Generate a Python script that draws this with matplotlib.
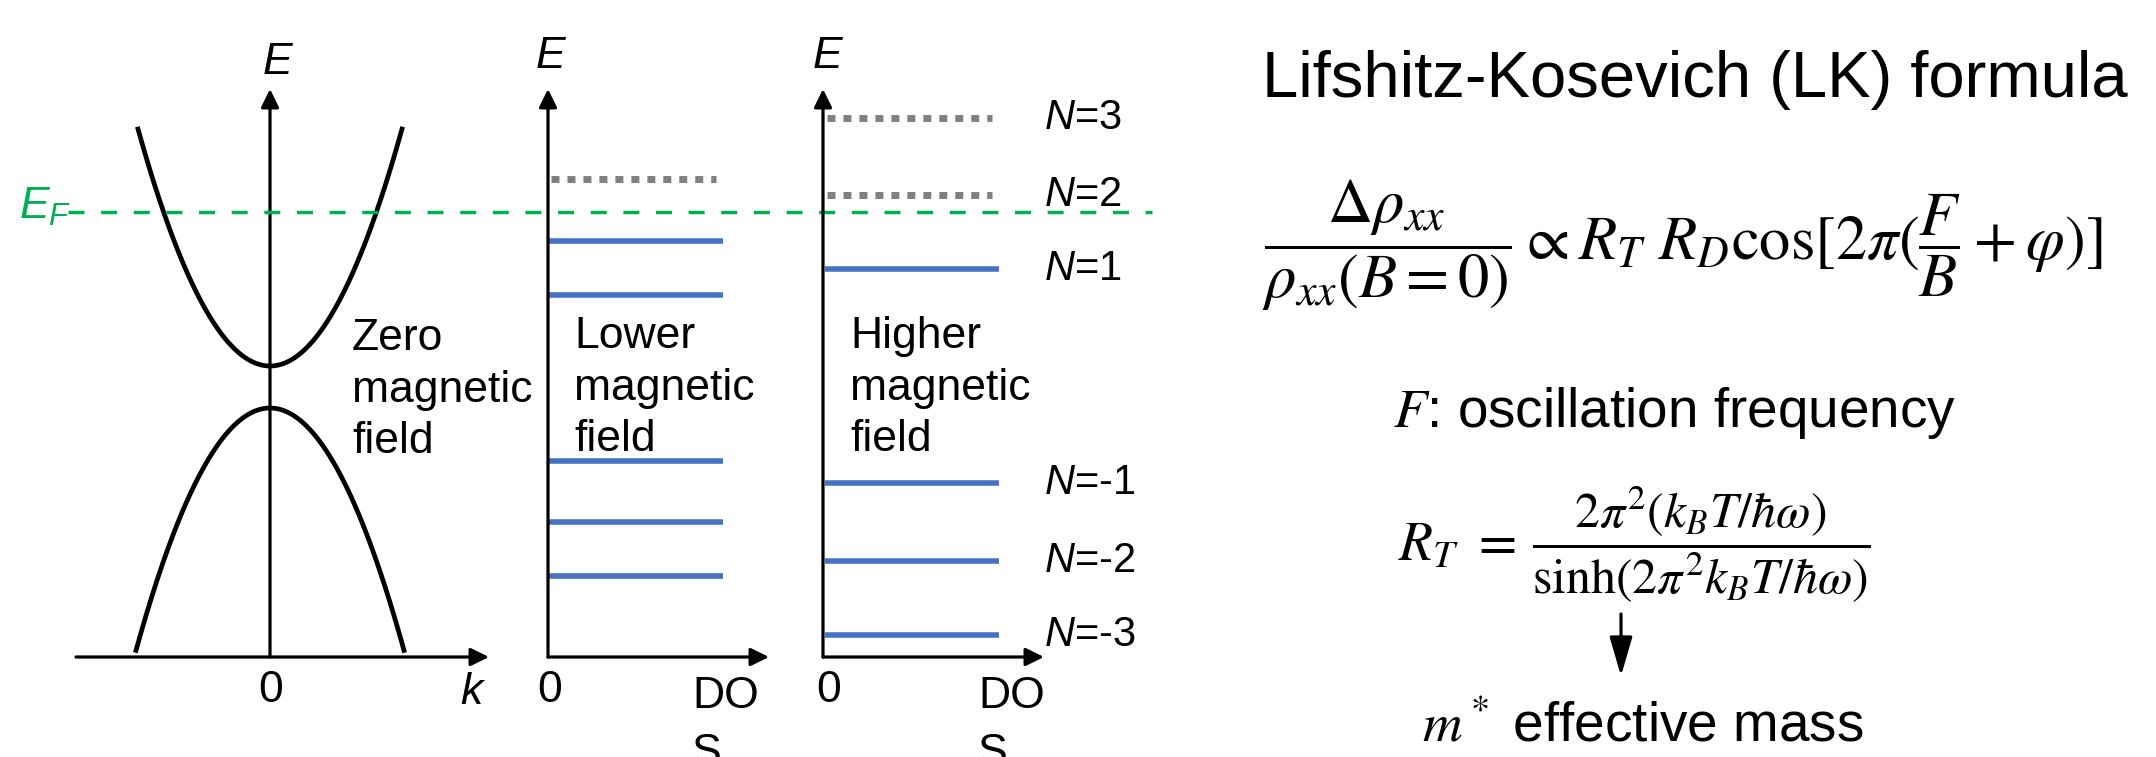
import matplotlib
matplotlib.use('Agg')
import matplotlib.pyplot as plt
import matplotlib.transforms as mtransforms
import numpy as np

plt.rcParams['font.family'] = ['Liberation Sans', 'DejaVu Sans']
plt.rcParams['mathtext.fontset'] = 'custom'
plt.rcParams['mathtext.rm'] = 'Liberation Sans'
plt.rcParams['mathtext.it'] = 'Liberation Sans:italic'

# ---- data (energies in arbitrary units, E = 0 in the middle of the gap) ----
gap = 0.42                 # band gap at k = 0
curv_cond = 1.36           # curvature of the conduction band
curv_val = 1.35            # curvature of the valence band
k_cond = 1.32              # |k| where the drawn bands stop
k_val = 1.34
E_F = 1.75                 # Fermi level

low_filled = [1.46, 0.92, -0.74, -1.35, -1.89]   # Landau levels, lower field
low_empty = [2.08]
high_filled = [1.18, -0.96, -1.74, -2.48]        # Landau levels, higher field
high_empty = [2.69, 1.92]
high_N = [3, 2, 1, -1, -2, -3]
high_N_E = [2.69, 1.92, 1.18, -0.96, -1.74, -2.48]
dos_len = 1.0              # drawn length of a level
dos_len_empty = 0.96

E_lim = (-2.70, 2.98)

blue = '#4472C4'
gray = '#808080'
green = '#00B050'

W, H = 2156, 757
fig = plt.figure(figsize=(W / 100, H / 100), dpi=100)
fig.patch.set_facecolor('white')

# full-figure canvas in pixel units for the free text
bg = fig.add_axes([0, 0, 1, 1])
bg.set_xlim(0, W)
bg.set_ylim(H, 0)
bg.axis('off')


def panel(x0, x1, xlim):
    ax = fig.add_axes([x0 / W, (H - 657) / H, (x1 - x0) / W, 568 / H])
    ax.set_xlim(*xlim)
    ax.set_ylim(*E_lim)
    ax.axis('off')
    return ax


def axis_arrows(ax, x_at):
    arr = dict(arrowstyle='-|>,head_length=0.55,head_width=0.27', lw=2.3,
               color='k', shrinkA=0, shrinkB=0, mutation_scale=20)
    ax.annotate('', xy=(1, 0), xytext=(0, 0), xycoords='axes fraction',
                arrowprops=arr)
    ax.annotate('', xy=(x_at, 1), xytext=(x_at, 0),
                xycoords=('data', 'axes fraction'), arrowprops=arr)


# ---------------- panel 1 : bands at zero field ----------------
ax1 = panel(76, 489, (-1.94, 2.19))
axis_arrows(ax1, 0)
k = np.linspace(-k_cond, k_cond, 300)
ax1.plot(k, gap / 2 + curv_cond * k ** 2, color='k', lw=3.4)
k = np.linspace(-k_val, k_val, 300)
ax1.plot(k, -gap / 2 - curv_val * k ** 2, color='k', lw=3.4)

# Fermi level across the three panels
tr = mtransforms.blended_transform_factory(fig.transFigure, ax1.transData)
ax1.plot([68 / W, 1152 / W], [E_F, E_F], transform=tr, color=green, lw=2.5,
         ls=(0, (4.6, 4.8)), clip_on=False, zorder=5)
ax1.text(19 / W, E_F - 0.07, '$E_F$', transform=tr, color=green, fontsize=32,
         ha='left', va='baseline')

# ---------------- panel 2 : lower field ----------------
ax2 = panel(548, 769, (0, 1.263))
axis_arrows(ax2, 0)
for e in low_filled:
    ax2.plot([0, dos_len], [e, e], color=blue, lw=4, solid_capstyle='butt')
for e in low_empty:
    ax2.plot([0.02, dos_len_empty], [e, e], color=gray, lw=5,
             ls=(0, (1.15, 1.15)))

# ---------------- panel 3 : higher field ----------------
ax3 = panel(823, 1044, (0, 1.256))
axis_arrows(ax3, 0)
for e in high_filled:
    ax3.plot([0.01, dos_len], [e, e], color=blue, lw=4, solid_capstyle='butt')
for e in high_empty:
    ax3.plot([0.02, dos_len_empty], [e, e], color=gray, lw=5,
             ls=(0, (1.15, 1.15)))
for n, e in zip(high_N, high_N_E):
    ax3.text(1.0, e, '$N$=%d' % n, transform=ax3.get_yaxis_transform(),
             fontsize=30, ha='left', va='center')

# ---------------- axis labels ----------------
for x, y in [(277, 62), (550, 56), (827, 56)]:
    bg.text(x, y, 'E', fontsize=32, style='italic', ha='center', va='center')
for x in [271, 550, 829]:
    bg.text(x, 691, '0', fontsize=32, ha='center', va='center')
bg.text(471, 692, 'k', fontsize=32, style='italic', ha='center', va='center')
for x in [692, 978]:
    bg.text(x, 676, 'DO\nS', fontsize=32, ha='left', va='top', linespacing=1.5)

txt = dict(fontsize=32, ha='left', va='top', linespacing=1.33)
bg.text(352, 318, 'Zero\nmagnetic\nfield', **txt)
bg.text(574, 316, 'Lower\nmagnetic\nfield', **txt)
bg.text(850, 316, 'Higher\nmagnetic\nfield', **txt)

# ---------------- right side: LK formula ----------------
bg.text(1262, 97, 'Lifshitz-Kosevich (LK) formula', fontsize=47,
        ha='left', va='baseline')
bg.text(1262, 245,
        r'$\dfrac{\Delta\rho_{xx}}{\rho_{xx}(B=0)}\propto R_T\ R_D\cos[2\pi(\dfrac{F}{B}+\varphi)]$',
        math_fontfamily='stix', fontsize=45, ha='left', va='center')
bg.text(1393, 427, '$F$: oscillation frequency', math_fontfamily='stix',
        fontsize=39.5, ha='left', va='baseline')
bg.text(1398, 560, r'$R_T\ =$', math_fontfamily='stix', fontsize=40,
        ha='left', va='baseline')
bg.text(1532, 545,
        r'$\dfrac{2\pi^2(k_BT/\hbar\omega)}{\sinh(2\pi^2k_BT/\hbar\omega)}$',
        math_fontfamily='stix', fontsize=36, ha='left', va='center')
bg.annotate('', xy=(1621, 676), xytext=(1621, 614),
            arrowprops=dict(arrowstyle='-|>,head_length=1.2,head_width=0.35',
                            lw=2.3, color='k', shrinkA=0, shrinkB=0,
                            mutation_scale=20))
bg.text(1422, 742, '$m^*$ effective mass', math_fontfamily='stix',
        fontsize=39.5, ha='left', va='baseline')

fig.savefig('out.png', dpi=100, facecolor='white')
